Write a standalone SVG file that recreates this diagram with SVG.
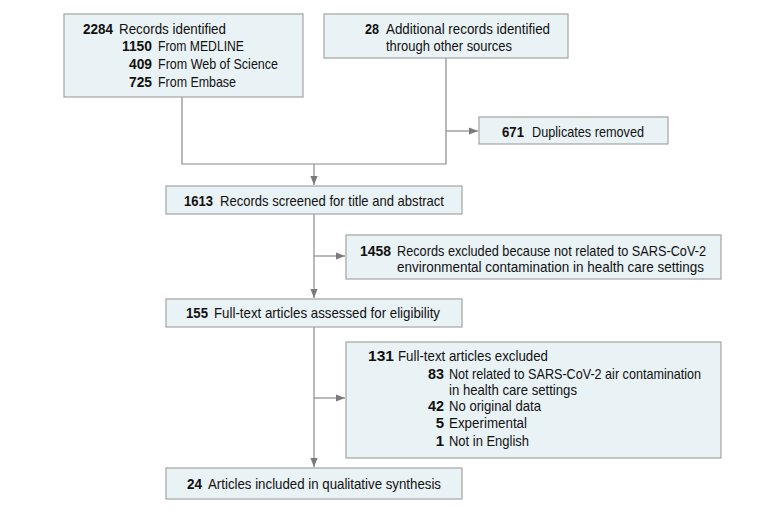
<svg xmlns="http://www.w3.org/2000/svg" width="780" height="512" viewBox="0 0 780 512">
<style>
.box{fill:#e9f2f5;stroke:#a3a3a3;stroke-width:1.2}
.t{font-family:"Liberation Sans",Arial,sans-serif;font-size:15px;fill:#111111}
.n{font-weight:bold;text-anchor:end}
.ln{fill:none;stroke:#8a8a8a;stroke-width:1.2}
</style>
<defs>
<marker id="ah" viewBox="0 0 10 10" refX="10" refY="5" markerWidth="9" markerHeight="9" markerUnits="userSpaceOnUse" orient="auto">
<path d="M0,1 L10,5 L0,9 Z" fill="#7a7a7a"/>
</marker>
</defs>
<rect width="780" height="512" fill="#ffffff"/>
<g id="connectors">
<path class="ln" d="M182,97 V164 H446 V58"/>
<path class="ln" d="M446,131 H478" marker-end="url(#ah)"/>
<path class="ln" d="M314,164 V185" marker-end="url(#ah)"/>
<path class="ln" d="M314,214 V298" marker-end="url(#ah)"/>
<path class="ln" d="M314,256 H345" marker-end="url(#ah)"/>
<path class="ln" d="M314,327 V467" marker-end="url(#ah)"/>
<path class="ln" d="M314,398 H345" marker-end="url(#ah)"/>
</g>
<g id="n1">
<rect class="box" x="64" y="14" width="239" height="83"/>
<text class="t n" x="113" y="34" textLength="30" lengthAdjust="spacingAndGlyphs">2284</text>
<text class="t" x="119" y="34" textLength="107" lengthAdjust="spacingAndGlyphs">Records identified</text>
<text class="t n" x="152" y="51" textLength="30" lengthAdjust="spacingAndGlyphs">1150</text>
<text class="t" x="158" y="51" textLength="86" lengthAdjust="spacingAndGlyphs">From MEDLINE</text>
<text class="t n" x="152" y="69" textLength="23" lengthAdjust="spacingAndGlyphs">409</text>
<text class="t" x="158" y="69" textLength="120" lengthAdjust="spacingAndGlyphs">From Web of Science</text>
<text class="t n" x="152" y="87" textLength="23" lengthAdjust="spacingAndGlyphs">725</text>
<text class="t" x="158" y="87" textLength="78" lengthAdjust="spacingAndGlyphs">From Embase</text>
</g>
<g id="n2">
<rect class="box" x="324" y="14" width="244" height="44"/>
<text class="t n" x="379" y="34" textLength="14" lengthAdjust="spacingAndGlyphs">28</text>
<text class="t" x="386" y="34" textLength="164" lengthAdjust="spacingAndGlyphs">Additional records identified</text>
<text class="t" x="386" y="51" textLength="126" lengthAdjust="spacingAndGlyphs">through other sources</text>
</g>
<g id="n3">
<rect class="box" x="479" y="117" width="189" height="27"/>
<text class="t n" x="524" y="137" textLength="22" lengthAdjust="spacingAndGlyphs">671</text>
<text class="t" x="532" y="137" textLength="112" lengthAdjust="spacingAndGlyphs">Duplicates removed</text>
</g>
<g id="n4">
<rect class="box" x="166" y="186" width="296" height="28"/>
<text class="t n" x="213" y="206" textLength="29" lengthAdjust="spacingAndGlyphs">1613</text>
<text class="t" x="220" y="206" textLength="224" lengthAdjust="spacingAndGlyphs">Records screened for title and abstract</text>
</g>
<g id="n5">
<rect class="box" x="346" y="235" width="375" height="44"/>
<text class="t n" x="391" y="256" textLength="31" lengthAdjust="spacingAndGlyphs">1458</text>
<text class="t" x="397" y="256" textLength="309" lengthAdjust="spacingAndGlyphs">Records excluded because not related to SARS-CoV-2</text>
<text class="t" x="397" y="272" textLength="307" lengthAdjust="spacingAndGlyphs">environmental contamination in health care settings</text>
</g>
<g id="n6">
<rect class="box" x="166" y="299" width="296" height="28"/>
<text class="t n" x="208" y="318" textLength="22" lengthAdjust="spacingAndGlyphs">155</text>
<text class="t" x="214" y="318" textLength="226" lengthAdjust="spacingAndGlyphs">Full-text articles assessed for eligibility</text>
</g>
<g id="n7">
<rect class="box" x="346" y="342" width="375" height="116"/>
<text class="t n" x="394" y="361" textLength="26" lengthAdjust="spacingAndGlyphs">131</text>
<text class="t" x="398" y="361" textLength="150" lengthAdjust="spacingAndGlyphs">Full-text articles excluded</text>
<text class="t n" x="444" y="379" textLength="16" lengthAdjust="spacingAndGlyphs">83</text>
<text class="t" x="449" y="379" textLength="252" lengthAdjust="spacingAndGlyphs">Not related to SARS-CoV-2 air contamination</text>
<text class="t" x="449" y="395" textLength="128" lengthAdjust="spacingAndGlyphs">in health care settings</text>
<text class="t n" x="444" y="411" textLength="16" lengthAdjust="spacingAndGlyphs">42</text>
<text class="t" x="449" y="411" textLength="92" lengthAdjust="spacingAndGlyphs">No original data</text>
<text class="t n" x="444" y="428">5</text>
<text class="t" x="449" y="428" textLength="78" lengthAdjust="spacingAndGlyphs">Experimental</text>
<text class="t n" x="444" y="446">1</text>
<text class="t" x="449" y="446" textLength="80" lengthAdjust="spacingAndGlyphs">Not in English</text>
</g>
<g id="n8">
<rect class="box" x="166" y="468" width="296" height="31"/>
<text class="t n" x="202" y="489" textLength="15" lengthAdjust="spacingAndGlyphs">24</text>
<text class="t" x="208" y="489" textLength="233" lengthAdjust="spacingAndGlyphs">Articles included in qualitative synthesis</text>
</g>
</svg>
